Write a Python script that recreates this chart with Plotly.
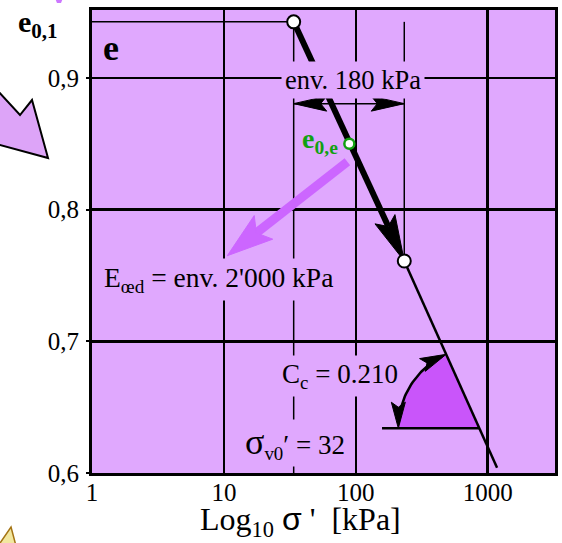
import math
import plotly.graph_objects as go

# ---------------- data ----------------
sigma_main = [33.8, 233.0]      # kPa : e0,1 point and end of the thick arrow
e_main = [0.9426, 0.761]
sigma_e0e = [89.3]
e_e0e = [0.850]
sigma_line_end = [1177.0]
e_line_end = [0.604]
e_dimension = [0.8805]          # level of the "env. 180 kPa" dimension arrow
sigma_oed_arrow = [86.3, 10.6]  # magenta Eoed arrow (start, tip)
e_oed_arrow = [0.8364, 0.765]
e_cc_base = [0.634]             # horizontal base of the Cc sector
sigma_cc_base_start = [158.0]
xtick_vals = [1, 10, 100, 1000]
xtick_text = ["1", "10", "100", "1000"]
ytick_vals = [0.6, 0.7, 0.8, 0.9]
ytick_text = ["0,6", "0,7", "0,8", "0,9"]

# ---------------- layout constants ----------------
W, H = 562, 543
ML, MT, MR, MB = 92, 10, 7, 70
PW, PH = W - ML - MR, H - MT - MB
XR = [0.0, 3.51]
YR = [0.6, 0.9516]
BG = "#E0A8FE"
MAG = "#CC66FF"
SECT = "#C955FA"
SERIF = "Liberation Serif, Times New Roman, serif"


def to_px(s, e):
    return (ML + (math.log10(s) - XR[0]) / (XR[1] - XR[0]) * PW,
            MT + (YR[1] - e) / (YR[1] - YR[0]) * PH)


def to_data(x, y):
    return (10 ** (XR[0] + (x - ML) / PW * (XR[1] - XR[0])),
            YR[1] - (y - MT) / PH * (YR[1] - YR[0]))


def paper(x, y):
    return (x - ML) / PW, (MT + PH - y) / PH


def head(tip, direction, length, half, notch):
    dx, dy = direction
    n = math.hypot(dx, dy)
    ux, uy = dx / n, dy / n
    nx, ny = -uy, ux
    tx, ty = tip
    bx, by = tx - ux * length, ty - uy * length
    pts = [(tx, ty),
           (bx + nx * half, by + ny * half),
           (tx - ux * (length - notch), ty - uy * (length - notch)),
           (bx - nx * half, by - ny * half),
           (tx, ty)]
    d = [to_data(*p) for p in pts]
    return [p[0] for p in d], [p[1] for p in d]


def back_from(tip, direction, dist):
    dx, dy = direction
    n = math.hypot(dx, dy)
    return to_data(tip[0] - dx / n * dist, tip[1] - dy / n * dist)


fig = go.Figure()

p1 = to_px(sigma_main[0], e_main[0])
p2 = to_px(sigma_main[1], e_main[1])
pend = to_px(sigma_line_end[0], e_line_end[0])

# --- Cc sector ---
ls = math.log10(sigma_main[1]) + (e_main[1] - e_cc_base[0]) / (e_main[1] - e_line_end[0]) * (
    math.log10(sigma_line_end[0]) - math.log10(sigma_main[1]))
C = to_px(10 ** ls, e_cc_base[0])
R = 81
a1 = math.atan2(-(p2[1] - C[1]), p2[0] - C[0])
a2 = math.pi
arc = [a1 + (a2 - a1) * i / 40 for i in range(41)]
arc_px = [(C[0] + R * math.cos(a), C[1] - R * math.sin(a)) for a in arc]
sect = [C] + arc_px + [C]
sd = [to_data(*p) for p in sect]
fig.add_trace(go.Scatter(x=[p[0] for p in sd], y=[p[1] for p in sd], mode="lines",
                         fill="toself", fillcolor=SECT, line=dict(width=0, color=SECT),
                         hoverinfo="skip", showlegend=False))
# arc line
ad = [to_data(*p) for p in arc_px[2:-2]]
fig.add_trace(go.Scatter(x=[p[0] for p in ad], y=[p[1] for p in ad], mode="lines",
                         line=dict(color="black", width=2.5), showlegend=False, hoverinfo="skip"))
for a, sgn in ((a2, 1), (a1, -1)):
    tip = (C[0] + R * math.cos(a), C[1] - R * math.sin(a))
    dvec = (sgn * -math.sin(a), sgn * -math.cos(a))
    hx, hy = head(tip, dvec, 26, 7, 5)
    fig.add_trace(go.Scatter(x=hx, y=hy, mode="lines", fill="toself", fillcolor="black",
                             line=dict(color="black", width=1), showlegend=False, hoverinfo="skip"))
# horizontal base
fig.add_trace(go.Scatter(x=[sigma_cc_base_start[0], 10 ** ls], y=[e_cc_base[0], e_cc_base[0]],
                         mode="lines", line=dict(color="black", width=2.5),
                         showlegend=False, hoverinfo="skip"))

# --- thin reference lines ---
fig.add_trace(go.Scatter(x=[1, sigma_main[0]], y=[e_main[0], e_main[0]], mode="lines",
                         line=dict(color="black", width=1.5), showlegend=False, hoverinfo="skip"))
fig.add_trace(go.Scatter(x=[sigma_main[0], sigma_main[0]], y=[e_main[0], YR[0]], mode="lines",
                         line=dict(color="black", width=1.5), showlegend=False, hoverinfo="skip"))
fig.add_trace(go.Scatter(x=[sigma_main[1], sigma_main[1]], y=[e_main[0], e_main[1]], mode="lines",
                         line=dict(color="black", width=1.5), showlegend=False, hoverinfo="skip"))

# --- dimension arrow (env. 180 kPa) ---
dl = to_px(sigma_main[0], e_dimension[0])
dr = to_px(sigma_main[1], e_dimension[0])
fig.add_trace(go.Scatter(x=[sigma_main[0], sigma_main[1]], y=[e_dimension[0]] * 2, mode="lines",
                         line=dict(color="black", width=1.5), showlegend=False, hoverinfo="skip"))
for tip, dvec in ((dl, (-1, 0)), (dr, (1, 0))):
    hx, hy = head(tip, dvec, 33, 7.5, 6)
    fig.add_trace(go.Scatter(x=hx, y=hy, mode="lines", fill="toself", fillcolor="black",
                             line=dict(color="black", width=1), showlegend=False, hoverinfo="skip"))

# --- thin compression line after the arrow ---
fig.add_trace(go.Scatter(x=[sigma_main[1], sigma_line_end[0]], y=[e_main[1], e_line_end[0]],
                         mode="lines", line=dict(color="black", width=2.5),
                         showlegend=False, hoverinfo="skip"))

# --- thick arrow from e0,1 ---
dvec = (p2[0] - p1[0], p2[1] - p1[1])
bs, be = back_from(p2, dvec, 38)
fig.add_trace(go.Scatter(x=[sigma_main[0], bs], y=[e_main[0], be], mode="lines",
                         line=dict(color="black", width=6), showlegend=False, hoverinfo="skip"))
hx, hy = head(p2, dvec, 46, 11, 8)
fig.add_trace(go.Scatter(x=hx, y=hy, mode="lines", fill="toself", fillcolor="black",
                         line=dict(color="black", width=1), showlegend=False, hoverinfo="skip"))

# --- magenta Eoed arrow ---
m0 = to_px(sigma_oed_arrow[0], e_oed_arrow[0])
m1 = to_px(sigma_oed_arrow[1], e_oed_arrow[1])
mv = (m1[0] - m0[0], m1[1] - m0[1])
ms, me = back_from(m1, mv, 35)
fig.add_trace(go.Scatter(x=[sigma_oed_arrow[0], ms], y=[e_oed_arrow[0], me], mode="lines",
                         line=dict(color=MAG, width=9), showlegend=False, hoverinfo="skip"))
hx, hy = head(m1, mv, 46, 15, 9)
fig.add_trace(go.Scatter(x=hx, y=hy, mode="lines", fill="toself", fillcolor=MAG,
                         line=dict(color=MAG, width=1), showlegend=False, hoverinfo="skip"))

# --- markers ---
fig.add_trace(go.Scatter(x=sigma_main, y=e_main, mode="markers",
                         marker=dict(size=13, color="white", line=dict(color="black", width=2)),
                         showlegend=False, hoverinfo="skip"))
fig.add_trace(go.Scatter(x=sigma_e0e, y=e_e0e, mode="markers",
                         marker=dict(size=10, color="white", line=dict(color="#12A012", width=2.5)),
                         showlegend=False, hoverinfo="skip"))

# ---------------- annotations ----------------
ann = []


def add_text(text, x, y, size, xanchor="center", color="black", bg=None, pad=2, family=SERIF):
    px_, py_ = paper(x, y)
    d = dict(text=text, x=px_, y=py_, xref="paper", yref="paper", showarrow=False,
             xanchor=xanchor, yanchor="middle", font=dict(size=size, color=color, family=family),
             borderpad=pad)
    if bg:
        d["bgcolor"] = bg
    ann.append(d)


add_text("<b>e</b>", 111, 48, 36)
add_text("<b>e<sub>0,1</sub></b>", 15, 24, 30, xanchor="left")
add_text("env. 180 kPa", 353, 80, 26.5, bg=BG, pad=3)
add_text("<b>e<sub>0,e</sub></b>", 341, 140, 28, xanchor="right", color="#12A012")
add_text("E<sub>œd</sub> = env. 2'000 kPa", 100, 279, 27.5, xanchor="left", bg=BG, pad=3)
add_text("C<sub>c</sub> = 0.210", 278, 376, 27, xanchor="left", bg=BG, pad=3)
add_text("<span style='font-size:36px'>σ</span><sub>v0</sub>′ = 32", 242, 443, 27,
         xanchor="left", bg=BG, pad=2)
add_text("Log<sub>10</sub> <span style='font-family:Liberation Sans, Arial, sans-serif'>σ</span> '  [kPa]",
         300, 521, 32)

# ---------------- decorative shapes outside the chart ----------------
shapes = []


def ppath(pts):
    s = ""
    for i, (x, y) in enumerate(pts):
        px_, py_ = paper(x, y)
        s += ("M" if i == 0 else "L") + f"{px_:.4f},{py_:.4f} "
    return s + "Z"


shapes.append(dict(type="path", xref="paper", yref="paper",
                   path=ppath([(-4, 89), (20, 115), (32, 100), (48, 158), (-4, 144)]),
                   fillcolor="#DDA4F8", line=dict(color="black", width=2)))
shapes.append(dict(type="path", xref="paper", yref="paper",
                   path=ppath([(-2, 546), (11, 527), (16, 546)]),
                   fillcolor="#F2E7A0", line=dict(color="#A47414", width=1.5)))
shapes.append(dict(type="path", xref="paper", yref="paper",
                   path=ppath([(55, -2), (63, -2), (61, 3), (57, 3)]),
                   fillcolor="#CC77FF", line=dict(width=0)))

fig.update_layout(
    template="none",
    width=W, height=H,
    margin=dict(l=ML, r=MR, t=MT, b=MB, pad=0, autoexpand=False),
    paper_bgcolor="white", plot_bgcolor=BG,
    annotations=ann, shapes=shapes, showlegend=False,
    xaxis=dict(type="log", range=XR, tickvals=xtick_vals, ticktext=xtick_text,
               showgrid=True, gridcolor="black", gridwidth=2.5, automargin=False,
               showline=True, linecolor="black", linewidth=3, mirror=True,
               ticks="", tickfont=dict(family=SERIF, size=25, color="black"),
               ticklabelstandoff=-5, zeroline=False, fixedrange=True),
    yaxis=dict(range=YR, tickvals=ytick_vals, ticktext=ytick_text,
               showgrid=True, gridcolor="black", gridwidth=2.5, automargin=False,
               showline=True, linecolor="black", linewidth=3, mirror=True,
               ticks="outside", ticklen=3, tickwidth=2, tickcolor="black",
               tickfont=dict(family=SERIF, size=25, color="black"),
               ticklabelstandoff=2, zeroline=False, fixedrange=True),
)

fig.write_html("out.html", config={"displayModeBar": False, "staticPlot": True})

# remove the browser's default body margin so the figure sits at the page corner
with open("out.html", encoding="utf-8") as f:
    html = f.read()
html = html.replace("<head>", "<head><style>html,body{margin:0;padding:0;overflow:hidden;}</style>", 1)
with open("out.html", "w", encoding="utf-8") as f:
    f.write(html)
